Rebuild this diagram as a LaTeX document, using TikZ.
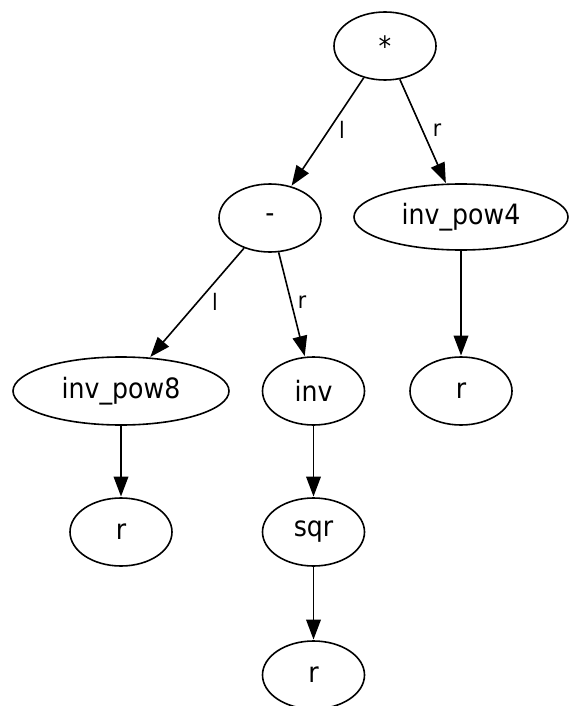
\documentclass[tikz,border=0pt]{standalone}
\usepackage{fontspec}
\setmainfont{DejaVu Sans}[FakeStretch=0.9]
\usetikzlibrary{shapes.geometric,arrows.meta}
\begin{document}
\begin{tikzpicture}[x=0.75pt,y=-0.75pt,
  treenode/.style={draw, ellipse, line width=1.2pt, inner sep=0pt,
    minimum height=51pt, font=\fontsize{21}{24}\selectfont},
  small/.style={treenode, minimum width=76.5pt},
  wide/.style={treenode, minimum width=162pt},
  edgelabel/.style={font=\fontsize{17}{20}\selectfont, inner sep=0pt},
  link/.style={line width=1.2pt, -{Triangle[length=15pt,width=11pt]}, shorten >=0.5pt}]
  \useasboundingbox (0,0) rectangle (568,706);

  % tree nodes
  \node[small] (star)  at (385,46)    {*};
  \node[small] (minus) at (270,218)   {-};
  \node[treenode, minimum width=160.5pt, minimum height=49.5pt] (ip4) at (461,217) {inv\_pow4};
  \node[wide]  (ip8)   at (121,391)   {inv\_pow8};
  \node[small] (inv)   at (313.5,391) {inv};
  \node[small] (r1)    at (461,391)   {r};
  \node[small] (r2)    at (121,532)   {r};
  \node[small] (sqr)   at (313.5,532) {sqr};
  \node[small] (r3)    at (313.5,675) {r};

  % edges
  \draw[link] (star)  -- (minus);
  \draw[link] (star)  -- (ip4);
  \draw[link] (minus) -- (ip8);
  \draw[link] (minus) -- (inv);
  \draw[link] (ip4)   -- (r1);
  \draw[link] (ip8)   -- (r2);
  \draw[link] (inv)   -- (sqr);
  \draw[link] (sqr)   -- (r3);

  % edge labels
  \node[edgelabel] (l1) at (342,130) {l};
  \node[edgelabel] (r1lab) at (437,130) {r};
  \node[edgelabel] (l2) at (215,302) {l};
  \node[edgelabel] (r2lab) at (302,302) {r};
\end{tikzpicture}
\end{document}
